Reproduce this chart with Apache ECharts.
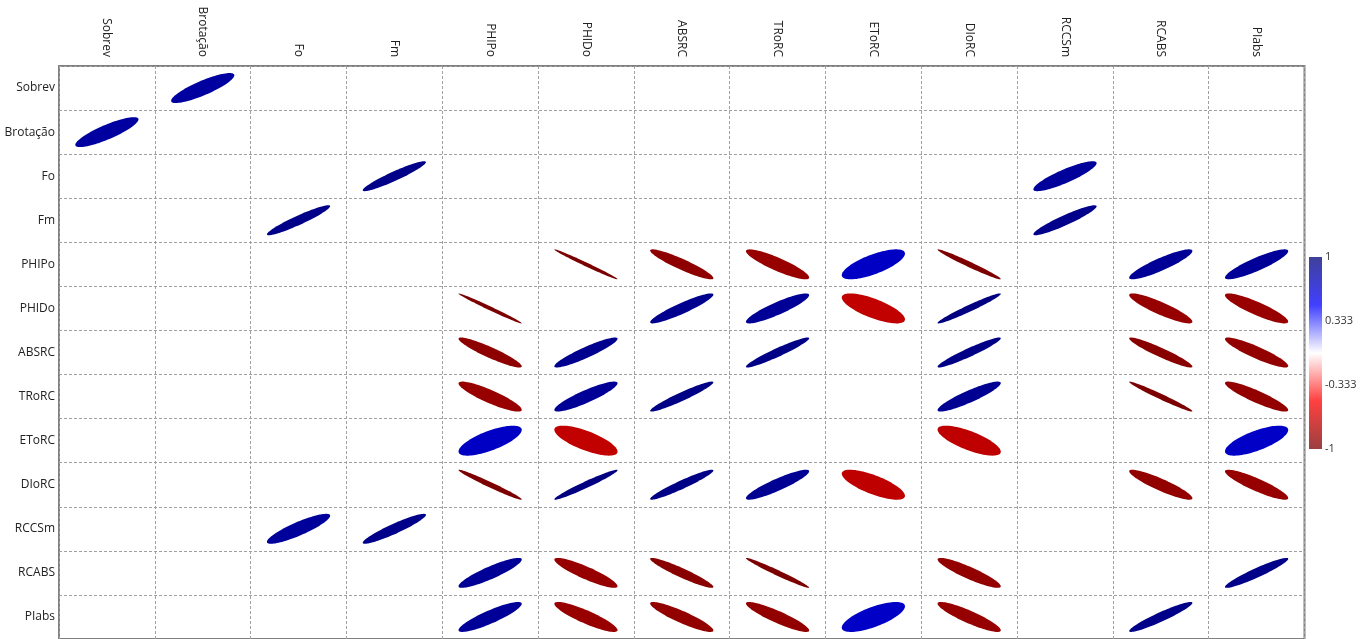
<!DOCTYPE html>
<html>
<head>
<meta charset="utf-8">
<script src="https://cdn.jsdelivr.net/npm/echarts@6/dist/echarts.min.js"></script>
<style>
  html, body { margin: 0; padding: 0; background: #fff; }
  #chart { width: 1372px; height: 639px; }
</style>
</head>
<body>
<div id="chart"></div>
<script>
// variaveis (mesma ordem nas linhas e colunas)
const variables = ['Sobrev', 'Brotação', 'Fo', 'Fm', 'PHIPo', 'PHIDo', 'ABSRC', 'TRoRC', 'EToRC', 'DIoRC', 'RCCSm', 'RCABS', 'PIabs']

// correlacoes significativas, matriz simetrica
const corrPairs = [
  ['Sobrev', 'Brotação', 0.85],
  ['Fo', 'Fm', 0.94],
  ['Fo', 'RCCSm', 0.87],
  ['Fm', 'RCCSm', 0.93],
  ['PHIPo', 'PHIDo', -0.99],
  ['PHIPo', 'ABSRC', -0.92],
  ['PHIPo', 'TRoRC', -0.88],
  ['PHIPo', 'EToRC', 0.72],
  ['PHIPo', 'DIoRC', -0.98],
  ['PHIPo', 'RCABS', 0.89],
  ['PHIPo', 'PIabs', 0.88],
  ['PHIDo', 'ABSRC', 0.92],
  ['PHIDo', 'TRoRC', 0.89],
  ['PHIDo', 'EToRC', -0.73],
  ['PHIDo', 'DIoRC', 0.97],
  ['PHIDo', 'RCABS', -0.89],
  ['PHIDo', 'PIabs', -0.88],
  ['ABSRC', 'TRoRC', 0.95],
  ['ABSRC', 'DIoRC', 0.95],
  ['ABSRC', 'RCABS', -0.94],
  ['ABSRC', 'PIabs', -0.9],
  ['TRoRC', 'DIoRC', 0.9],
  ['TRoRC', 'RCABS', -0.98],
  ['TRoRC', 'PIabs', -0.9],
  ['EToRC', 'DIoRC', -0.74],
  ['EToRC', 'PIabs', 0.71],
  ['DIoRC', 'RCABS', -0.9],
  ['DIoRC', 'PIabs', -0.89],
  ['RCABS', 'PIabs', 0.94]
]

// escala de cores de -1 a 1
const colorStops = ['#780000', '#ff0000', '#ffffff', '#0000ff', '#000078']
const colorbarLabels = ['-1', '-0.333', '0.333', '1']

const cellData = []
corrPairs.forEach(p => {
  const a = variables.indexOf(p[0])
  const b = variables.indexOf(p[1])
  cellData.push([b, a, p[2]])
  cellData.push([a, b, p[2]])
})

function renderEllipse (params, api) {
  const c = api.coord([api.value(0), api.value(1)])
  const size = api.size([1, 1])
  const r = api.value(2)
  const d = Math.acos(r)
  const sx = size[0] * 0.33
  const sy = size[1] * 0.34
  const pts = []
  for (let i = 0; i < 90; i++) {
    const t = i / 90 * Math.PI * 2
    pts.push([c[0] + sx * Math.cos(t + d / 2), c[1] - sy * Math.cos(t - d / 2)])
  }
  return {
    type: 'polygon',
    shape: { points: pts },
    style: { fill: api.visual('color') }
  }
}

function renderColorbar (params, api) {
  const cs = params.coordSys
  const stops = colorStops.slice().reverse().map((c, i) => ({ offset: i / (colorStops.length - 1), color: c }))
  return {
    type: 'rect',
    shape: { x: cs.x, y: cs.y, width: cs.width, height: cs.height },
    style: { fill: new echarts.graphic.LinearGradient(0, 0, 0, 1, stops), opacity: 0.75 }
  }
}

const labelFont = { fontFamily: 'Open Sans', fontSize: 12, color: '#222' }

const chart = echarts.init(document.getElementById('chart'))
const option = {
  animation: false,
  grid: [
    { left: 59, right: 67.5, top: 66, bottom: -2.5, show: true, borderColor: '#808080', borderWidth: 2 },
    { left: 1309, top: 257, width: 13, height: 192 }
  ],
  xAxis: [
    {
      type: 'category',
      gridIndex: 0,
      position: 'top',
      data: variables,
      axisLine: { show: false },
      axisTick: { show: false },
      axisLabel: Object.assign({ rotate: 90, margin: 9, interval: 0 }, labelFont),
      splitLine: { show: true, interval: 0, lineStyle: { color: '#a0a0a0', type: [3, 2], width: 1 } }
    },
    { type: 'value', gridIndex: 1, min: 0, max: 1, show: false }
  ],
  yAxis: [
    {
      type: 'category',
      gridIndex: 0,
      inverse: true,
      data: variables,
      axisLine: { show: false },
      axisTick: { show: false },
      axisLabel: Object.assign({ margin: 4, interval: 0 }, labelFont),
      splitLine: { show: true, interval: 0, lineStyle: { color: '#a0a0a0', type: [3, 2], width: 1 } }
    },
    {
      type: 'value',
      gridIndex: 1,
      position: 'right',
      min: 0,
      max: 3,
      interval: 1,
      axisLine: { show: false },
      axisTick: { show: false },
      splitLine: { show: false },
      axisLabel: {
        margin: 3,
        fontFamily: 'Open Sans',
        fontSize: 11,
        color: '#333',
        formatter: v => colorbarLabels[v]
      }
    }
  ],
  visualMap: {
    show: false,
    type: 'continuous',
    min: -1,
    max: 1,
    dimension: 2,
    seriesIndex: 0,
    inRange: { color: colorStops }
  },
  series: [
    {
      type: 'custom',
      xAxisIndex: 0,
      yAxisIndex: 0,
      renderItem: renderEllipse,
      data: cellData
    },
    {
      type: 'custom',
      xAxisIndex: 1,
      yAxisIndex: 1,
      renderItem: renderColorbar,
      data: [[0, 0]]
    }
  ]
}
chart.setOption(option)
</script>
</body>
</html>
